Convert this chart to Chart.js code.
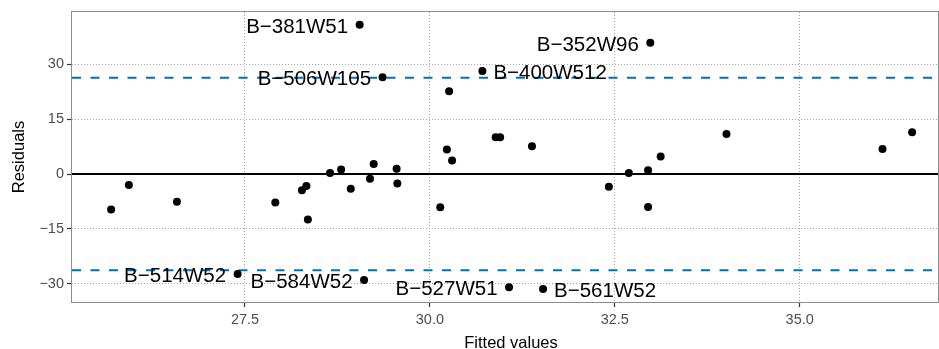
<!DOCTYPE html>
<html>
<head>
<meta charset="utf-8">
<script src="https://cdn.jsdelivr.net/npm/chart.js@4.4.1/dist/chart.umd.min.js"></script>
<style>
  html, body { margin: 0; padding: 0; background: #fff; }
  #wrap { position: relative; width: 939px; height: 349px; }
</style>
</head>
<body>
<div id="wrap"><canvas id="chart"></canvas></div>
<script>
// Residuals vs fitted values, with labelled outliers
const fitted = [25.69, 25.93, 26.58, 27.40, 27.91, 28.27, 28.33, 28.35, 28.65, 28.80,
  28.93, 29.05, 29.11, 29.19, 29.24, 29.36, 29.55, 29.56, 30.14, 30.23,
  30.26, 30.30, 30.71, 30.89, 30.95, 31.07, 31.38, 31.53, 32.42, 32.69,
  32.95, 32.95, 32.98, 33.12, 34.01, 36.12, 36.52];
const residuals = [-9.7, -3.0, -7.6, -27.3, -7.8, -4.4, -3.3, -12.4, 0.3, 1.2,
  -4.0, 40.7, -28.9, -1.3, 2.7, 26.4, 1.45, -2.6, -9.1, 6.7,
  22.6, 3.7, 28.1, 10.0, 10.0, -30.9, 7.55, -31.4, -3.5, 0.3,
  1.0, -9.0, 35.8, 4.8, 10.9, 6.8, 11.4];
const pointIds = ['', '', '', 'B−514W52', '', '', '', '', '', '',
  '', 'B−381W51', 'B−584W52', '', '', 'B−506W105', '', '', '', '',
  '', '', 'B−400W512', '', '', 'B−527W51', '', 'B−561W52', '', '',
  '', '', 'B−352W96', '', '', '', ''];
const cutoffs = [26.27, -26.27];
const xTicks = [27.5, 30, 32.5, 35];
const yTicks = [-30, -15, 0, 15, 30];

const X_MIN = 25.161, X_MAX = 36.87;
const Y_MIN = -34.93, Y_MAX = 44.21;
const FONT = '"Liberation Sans", Arial, Helvetica, sans-serif';

// labels placed to the right of their point; the rest sit to the left
const rightLabels = ['B−400W512', 'B−561W52'];

const points = fitted.map((x, i) => ({ x: x, y: residuals[i] }));
const span = y => [{ x: X_MIN, y: y }, { x: X_MAX, y: y }];

const overlay = {
  id: 'overlay',
  afterDatasetsDraw(chart) {
    const { ctx, chartArea: a, scales: { x, y } } = chart;
    ctx.save();
    ctx.font = '20.5px ' + FONT;
    ctx.fillStyle = '#000';
    ctx.textBaseline = 'alphabetic';
    pointIds.forEach((id, i) => {
      if (!id) return;
      const px = x.getPixelForValue(fitted[i]);
      const py = y.getPixelForValue(residuals[i]);
      const right = rightLabels.includes(id);
      ctx.textAlign = right ? 'left' : 'right';
      ctx.fillText(id, right ? px + 11 : px - 11.5, py + 8);
    });
    // panel border
    ctx.strokeStyle = '#8c8c8c';
    ctx.lineWidth = 1;
    ctx.strokeRect(a.left - 0.5, a.top - 0.5, a.right - a.left + 1, a.bottom - a.top + 1);
    ctx.restore();
  },
  afterDraw(chart) {
    const { ctx, chartArea: a } = chart;
    ctx.save();
    ctx.font = '16.5px ' + FONT;
    ctx.fillStyle = '#000';
    ctx.textAlign = 'center';
    ctx.textBaseline = 'alphabetic';
    ctx.fillText('Fitted values', 511, 347.5);
    ctx.translate(24, (a.top + a.bottom) / 2);
    ctx.rotate(-Math.PI / 2);
    ctx.fillText('Residuals', 0, 0);
    ctx.restore();
  }
};

new Chart(document.getElementById('chart').getContext('2d'), {
  type: 'scatter',
  data: {
    datasets: [
      {
        label: 'points',
        data: points,
        backgroundColor: '#000',
        borderWidth: 0,
        pointRadius: 4,
        order: 0,
      },
      {
        label: 'zero',
        type: 'line',
        data: span(0),
        borderColor: '#000',
        borderWidth: 1.8,
        pointRadius: 0,
        order: 2,
      },
      ...cutoffs.map(c => ({
        label: 'cutoff',
        type: 'line',
        data: span(c),
        borderColor: '#0072B2',
        borderWidth: 2,
        borderDash: [9, 9.5],
        pointRadius: 0,
        order: 1,
      })),
    ],
  },
  options: {
    responsive: true,
    maintainAspectRatio: false,
    animation: false,
    layout: { autoPadding: false, padding: { left: 0, top: 12, right: 1, bottom: 0 } },
    plugins: { legend: { display: false }, tooltip: { enabled: false } },
    scales: {
      x: {
        type: 'linear',
        min: X_MIN,
        max: X_MAX,
        afterBuildTicks: s => { s.ticks = xTicks.map(v => ({ value: v })); },
        afterFit: s => { s.height = 47; s.paddingLeft = 0; s.paddingRight = 0; },
        ticks: {
          callback: v => v.toFixed(1),
          color: '#4d4d4d',
          font: { family: FONT, size: 14.5 },
          padding: 4,
          maxRotation: 0,
          autoSkip: false,
        },
        grid: { color: '#a6a6a6', lineWidth: 1, tickLength: 5, tickColor: '#333', tickWidth: 1.2, tickBorderDash: [] },
        border: { display: false, dash: [1, 2] },
      },
      y: {
        type: 'linear',
        min: Y_MIN,
        max: Y_MAX,
        afterBuildTicks: s => { s.ticks = yTicks.map(v => ({ value: v })); },
        afterFit: s => { s.width = 72; s.paddingTop = 0; s.paddingBottom = 0; },
        ticks: {
          callback: v => (v < 0 ? '−' + Math.abs(v) : String(v)),
          color: '#4d4d4d',
          font: { family: FONT, size: 14.5 },
          padding: 3,
          autoSkip: false,
        },
        grid: { color: '#a6a6a6', lineWidth: 1, tickLength: 5, tickColor: '#333', tickWidth: 1.2, tickBorderDash: [] },
        border: { display: false, dash: [1, 2] },
      },
    },
  },
  plugins: [overlay],
});
</script>
</body>
</html>
